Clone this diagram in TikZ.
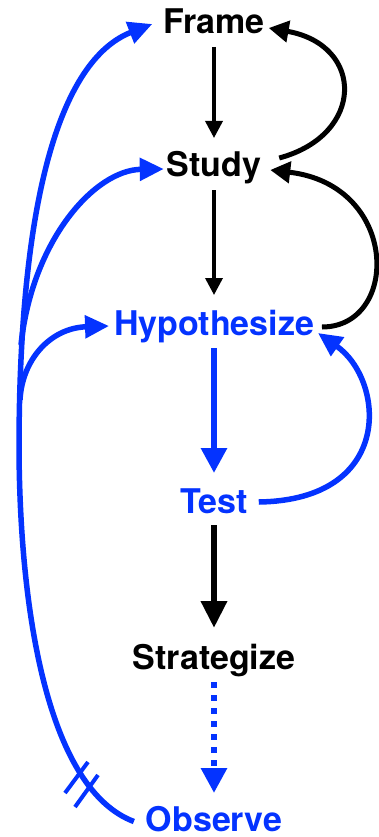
\documentclass[tikz,border=0pt]{standalone}
\usepackage{fontspec}
\setmainfont{TeX Gyre Heros}
\usetikzlibrary{arrows.meta}
\definecolor{myblue}{RGB}{4,51,255}
\begin{document}
\begin{tikzpicture}[x=1pt,y=-1pt,
  lbl/.style={font=\fontsize{34}{40}\selectfont\bfseries, inner sep=0pt, outer sep=0pt,
              text height=25pt, text depth=7pt, anchor=base},
  thinarr/.style={draw=black, line width=3.5pt, -{Triangle[length=17pt,width=17pt]},
                  shorten <=6pt},
  bluearr/.style={draw=myblue, line width=6pt, -{Triangle[length=25pt,width=25pt]},
                  shorten <=6pt},
  thickarr/.style={draw=black, line width=6.5pt, -{Triangle[length=27pt,width=25pt]},
                  shorten <=5pt},
  dotarr/.style={draw=myblue, line width=6pt, dash pattern=on 6pt off 7pt,
                 -{Triangle[length=25pt,width=25pt]}, shorten <=6pt},
  blackcurve/.style={draw=black, line width=5pt, -{Triangle[length=20pt,width=21pt]}},
  bluecurve/.style={draw=myblue, line width=5.5pt, -{Triangle[length=24pt,width=22pt]}},
  tick/.style={draw=myblue, line width=4pt}
]
\useasboundingbox (0,0) rectangle (379,837);
\fill[white] (0,0) rectangle (379,837);

% nodes
\node[lbl] (frame) at (214,34) {Frame};
\node[lbl] (study) at (214,177) {Study};
\node[lbl,text=myblue] (hyp) at (214,335) {Hypothesize};
\node[lbl,text=myblue] (test) at (214,513) {Test};
\node[lbl] (strat) at (214,669) {Strategize};
\node[lbl,text=myblue,text depth=0pt] (obs) at (214,831) {Observe};

% straight arrows
\draw[thinarr, shorten >=14pt] (frame.south) -- (study.north);
\draw[thinarr, shorten >=15pt] (study.south) -- (hyp.north);
\draw[bluearr, shorten >=15pt] (hyp.south) -- (test.north);
\draw[thickarr, shorten >=16pt] (test.south) -- (strat.north);
\draw[dotarr, shorten >=13pt] (strat.south) -- (obs.north);

% black feedback curves
\draw[blackcurve] ([shift={(18,-10)}]study.east) .. controls (365,135) and (365,45) .. ([shift={(4,3)}]frame.east);
\draw[blackcurve] ([shift={(8,1)}]hyp.east) .. controls (400,327) and (400,185) .. ([shift={(9,2)}]study.east);

% blue feedback curve
\draw[bluecurve] ([shift={(11,-2)}]test.east) .. controls (395,500) and (385,380) .. ([shift={(4,7)}]hyp.east);

% observe curves
\coordinate (j) at (19,450);
\coordinate (b1) at (21,345);
\coordinate (b2) at (20,400);
\draw[bluecurve] ([shift={(-12,3)}]obs.west) .. controls (50,790) and (20,620) .. (j)
   .. controls (19,200) and (60,60) .. ([shift={(-11,-1)}]frame.west);
\draw[bluecurve] (b1) .. controls (32,240) and (95,170) .. ([shift={(-3,1)}]study.west);
\draw[bluecurve] (b2) .. controls (22,360) and (50,328) .. ([shift={(-5,0)}]hyp.west);

% delay ticks
\draw[tick] (65,793) -- (88,762);
\draw[tick] (75,807) -- (98,775);
\end{tikzpicture}
\end{document}
